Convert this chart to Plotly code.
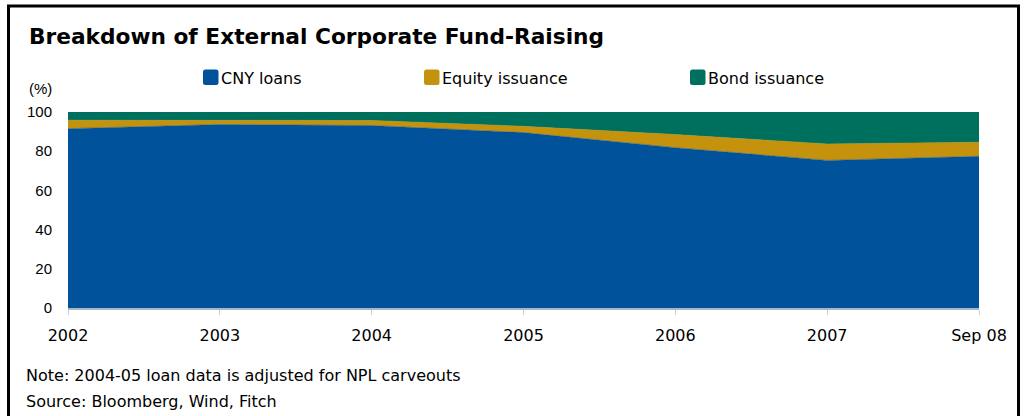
import plotly.graph_objects as go

# Share of external corporate fund-raising (%), stacked to 100
periods = ["2002", "2003", "2004", "2005", "2006", "2007", "Sep 08"]
cny_loans = [91.5, 93.6, 93.1, 89.5, 81.8, 75.3, 77.4]
equity_issuance = [4.3, 2.2, 2.6, 3.2, 6.7, 8.4, 7.2]
bond_issuance = [round(100 - a - b, 1) for a, b in zip(cny_loans, equity_issuance)]
y_ticks = [0, 20, 40, 60, 80, 100]

series = [
    ("CNY loans", cny_loans, "#00529B"),
    ("Equity issuance", equity_issuance, "#C4920C"),
    ("Bond issuance", bond_issuance, "#00705E"),
]

W, H = 1026, 416
ML, MR, MT, MB = 68, 47, 112, 108
PW, PH = W - ML - MR, H - MT - MB


def px(x):
    return (x - ML) / PW


def py(y):
    return (H - MB - y) / PH


FONT = "DejaVu Sans"
x_idx = list(range(len(periods)))

fig = go.Figure()
for name, vals, col in series:
    fig.add_trace(go.Scatter(
        x=x_idx, y=vals, name=name, mode="lines",
        stackgroup="one", line=dict(width=0.5, color=col),
        fillcolor=col, showlegend=False, hoverinfo="x+y+name",
    ))

shapes = [
    # outer frame
    dict(type="rect", xref="paper", yref="paper",
         x0=px(8.5), x1=px(1018.5), y0=py(6), y1=py(440),
         line=dict(color="black", width=3), fillcolor="rgba(0,0,0,0)", layer="below"),
]
annotations = [
    dict(text="<b>Breakdown of External Corporate Fund-Raising</b>", x=px(27), y=py(36),
         xref="paper", yref="paper", xanchor="left", yanchor="middle", showarrow=False,
         font=dict(family=FONT, size=21.7, color="#000")),
    dict(text="(%)", x=px(27), y=py(88.5), xref="paper", yref="paper",
         xanchor="left", yanchor="middle", showarrow=False,
         font=dict(family="Liberation Sans", size=15, color="#000")),
    dict(text="Note: 2004-05 loan data is adjusted for NPL carveouts", x=px(24), y=py(375),
         xref="paper", yref="paper", xanchor="left", yanchor="middle", showarrow=False,
         font=dict(family=FONT, size=16, color="#000")),
    dict(text="Source: Bloomberg, Wind, Fitch", x=px(24), y=py(401),
         xref="paper", yref="paper", xanchor="left", yanchor="middle", showarrow=False,
         font=dict(family=FONT, size=16, color="#000")),
]

# legend: rounded swatches with labels
legend_x = [203, 424, 690]
for (name, _, col), lx in zip(series, legend_x):
    x0, x1, y0, y1, r = lx, lx + 15.5, 69.5, 85, 2.5
    path = (f"M {px(x0 + r)} {py(y0)} L {px(x1 - r)} {py(y0)} "
            f"Q {px(x1)} {py(y0)} {px(x1)} {py(y0 + r)} L {px(x1)} {py(y1 - r)} "
            f"Q {px(x1)} {py(y1)} {px(x1 - r)} {py(y1)} L {px(x0 + r)} {py(y1)} "
            f"Q {px(x0)} {py(y1)} {px(x0)} {py(y1 - r)} L {px(x0)} {py(y0 + r)} "
            f"Q {px(x0)} {py(y0)} {px(x0 + r)} {py(y0)} Z")
    shapes.append(dict(type="path", xref="paper", yref="paper", path=path,
                       fillcolor=col, line=dict(width=0)))
    annotations.append(dict(text=name, x=px(lx + 16), y=py(78.5), xref="paper", yref="paper",
                            xanchor="left", yanchor="middle", showarrow=False,
                            font=dict(family=FONT, size=16, color="#000")))

fig.update_layout(
    width=W, height=H,
    margin=dict(l=ML, r=MR, t=MT, b=MB, pad=0),
    paper_bgcolor="white", plot_bgcolor="white",
    showlegend=False,
    shapes=shapes, annotations=annotations,
    xaxis=dict(
        range=[0, len(periods) - 1], tickmode="array", tickvals=x_idx, ticktext=periods,
        showgrid=False, zeroline=False, showline=True, linecolor="#A9B6C6", linewidth=1.5,
        ticks="outside", ticklen=5, tickcolor="#C8CED6", tickwidth=1,
        tickfont=dict(family=FONT, size=16, color="#000"), ticklabelstandoff=7,
    ),
    yaxis=dict(
        range=[0, 100], tickmode="array", tickvals=y_ticks,
        showgrid=False, zeroline=False, showline=False, ticks="",
        tickfont=dict(family="Liberation Sans", size=15, color="#000"), ticklabelstandoff=15,
    ),
)

fig.write_html("out.html")
